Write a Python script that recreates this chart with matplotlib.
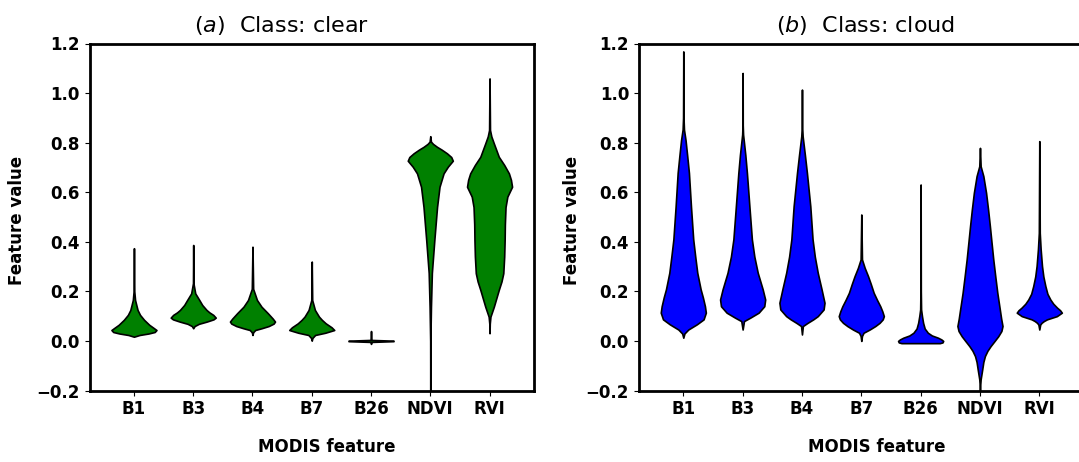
import numpy as np
import matplotlib.pyplot as plt

# MODIS features shown on the x axis
features = ['B1', 'B3', 'B4', 'B7', 'B26', 'NDVI', 'RVI']

# Violin outlines: feature value levels and relative half-widths (1 = widest)
clear_levels = [
    [0.017, 0.024, 0.030, 0.036, 0.044, 0.052, 0.065, 0.085, 0.105, 0.125, 0.165, 0.20, 0.374],
    [0.051, 0.06, 0.069, 0.078, 0.087, 0.094, 0.105, 0.115, 0.125, 0.145, 0.165, 0.192, 0.233, 0.387],
    [0.024, 0.035, 0.044, 0.051, 0.06, 0.07, 0.078, 0.09, 0.112, 0.138, 0.165, 0.21, 0.38],
    [0.001, 0.012, 0.024, 0.033, 0.044, 0.055, 0.071, 0.085, 0.098, 0.125, 0.165, 0.32],
    [-0.012, -0.004, -0.001, 0.001, 0.004, 0.04],
    [-0.25, 0.0, 0.138, 0.274, 0.407, 0.54, 0.622, 0.676, 0.703, 0.727, 0.742, 0.757, 0.772,
     0.783, 0.795, 0.804, 0.826],
    [0.031, 0.07, 0.098, 0.138, 0.172, 0.206, 0.24, 0.273, 0.34, 0.407, 0.47, 0.54, 0.582,
     0.622, 0.65, 0.676, 0.71, 0.743, 0.77, 0.797, 0.825, 0.851, 1.059],
]
clear_widths = [
    [0, 0.25, 0.65, 0.92, 1.0, 0.88, 0.68, 0.45, 0.27, 0.16, 0.05, 0.015, 0],
    [0, 0.06, 0.25, 0.6, 0.9, 1.0, 0.89, 0.72, 0.59, 0.4, 0.27, 0.09, 0.01, 0],
    [0, 0.03, 0.12, 0.4, 0.72, 0.94, 1.0, 0.9, 0.68, 0.4, 0.2, 0.03, 0],
    [0, 0.03, 0.15, 0.6, 1.0, 0.88, 0.62, 0.45, 0.32, 0.14, 0.02, 0],
    [0, 0.02, 1.0, 1.0, 0.02, 0],
    [0, 0.004, 0.03, 0.07, 0.18, 0.3, 0.41, 0.59, 0.78, 1.0, 0.93, 0.74, 0.5, 0.3, 0.12, 0.03, 0],
    [0, 0.01, 0.04, 0.19, 0.3, 0.41, 0.53, 0.61, 0.65, 0.67, 0.68, 0.71, 0.79, 1.0, 0.95, 0.86,
     0.65, 0.41, 0.3, 0.19, 0.08, 0.02, 0],
]

cloud_levels = [
    [0.013, 0.03, 0.046, 0.067, 0.087, 0.114, 0.14, 0.175, 0.208, 0.275, 0.34, 0.41, 0.543,
     0.678, 0.75, 0.81, 0.853, 0.9, 1.168],
    [0.046, 0.08, 0.094, 0.114, 0.14, 0.167, 0.208, 0.275, 0.34, 0.41, 0.543, 0.678, 0.75,
     0.80, 0.833, 0.87, 1.081],
    [0.026, 0.06, 0.073, 0.087, 0.1, 0.127, 0.154, 0.208, 0.275, 0.34, 0.41, 0.543, 0.678,
     0.75, 0.826, 0.87, 1.014],
    [0.0, 0.02, 0.033, 0.046, 0.06, 0.073, 0.087, 0.1, 0.12, 0.14, 0.165, 0.194, 0.23, 0.261,
     0.295, 0.329, 0.51],
    [-0.009, -0.006, 0.0, 0.006, 0.013, 0.022, 0.033, 0.05, 0.073, 0.1, 0.127, 0.2, 0.631],
    [-0.25, -0.18, -0.155, -0.115, -0.085, -0.061, -0.04, -0.021, 0.0, 0.019, 0.04, 0.06, 0.09,
     0.127, 0.194, 0.26, 0.329, 0.40, 0.463, 0.53, 0.598, 0.665, 0.705, 0.779],
    [0.046, 0.066, 0.073, 0.08, 0.087, 0.1, 0.114, 0.124, 0.134, 0.15, 0.167, 0.19, 0.221,
     0.26, 0.302, 0.37, 0.436, 0.806],
]
cloud_widths = [
    [0, 0.05, 0.22, 0.6, 0.9, 1.0, 0.96, 0.87, 0.77, 0.62, 0.53, 0.44, 0.34, 0.25, 0.17, 0.1,
     0.03, 0.01, 0],
    [0, 0.06, 0.34, 0.71, 0.96, 1.0, 0.89, 0.67, 0.52, 0.41, 0.3, 0.19, 0.12, 0.06, 0.02, 0.005, 0],
    [0, 0.04, 0.25, 0.5, 0.7, 0.96, 1.0, 0.87, 0.7, 0.57, 0.47, 0.37, 0.22, 0.13, 0.03, 0.005, 0],
    [0, 0.03, 0.1, 0.37, 0.62, 0.81, 0.95, 1.0, 0.93, 0.84, 0.7, 0.55, 0.42, 0.3, 0.15, 0.03, 0],
    [0.85, 0.97, 1.0, 0.92, 0.77, 0.5, 0.32, 0.18, 0.11, 0.06, 0.02, 0.008, 0],
    [0, 0.01, 0.03, 0.1, 0.15, 0.22, 0.33, 0.47, 0.65, 0.81, 0.95, 1.0, 0.94, 0.88, 0.77, 0.68,
     0.59, 0.51, 0.44, 0.36, 0.27, 0.15, 0.03, 0],
    [0, 0.04, 0.1, 0.2, 0.34, 0.78, 1.0, 0.92, 0.79, 0.62, 0.49, 0.36, 0.27, 0.18, 0.12, 0.06,
     0.02, 0],
]

HALF_WIDTH = 0.38


def draw_panel(ax, levels, widths, color, title, title_x):
    positions = np.arange(1, len(features) + 1)
    for pos, ys, ws in zip(positions, levels, widths):
        ys = np.asarray(ys)
        ws = np.asarray(ws) * HALF_WIDTH
        ax.fill_betweenx(ys, pos - ws, pos + ws, facecolor=color,
                         edgecolor='black', linewidth=1.2)

    ax.set_xlim(0.25, 7.75)
    ax.set_ylim(-0.2, 1.2)
    ax.set_xticks(positions, labels=features, fontsize=12, fontweight='bold')
    yt = np.arange(-0.2, 1.21, 0.2)
    ax.set_yticks(yt)
    ax.set_yticklabels([f'{v:.1f}'.replace('-', '\u2212') for v in yt],
                       fontsize=12, fontweight='bold')
    for side in ax.spines.values():
        side.set_linewidth(2.0)

    ax.set_xlabel('MODIS feature', fontsize=12, fontweight='bold')
    ax.xaxis.set_label_coords(0.534, -0.138)
    ax.set_ylabel('Feature value', fontsize=12, fontweight='bold')
    ax.set_title(title, fontsize=16, pad=8.5, x=title_x)


fig = plt.figure(figsize=(10.79, 4.62), dpi=100)
ax_clear = fig.add_axes([89.5 / 1079, 71.5 / 462, 444.5 / 1079, 347 / 462])
ax_cloud = fig.add_axes([638.8 / 1079, 71.5 / 462, 445 / 1079, 347 / 462])

draw_panel(ax_clear, clear_levels, clear_widths, 'green', r'$(a)$  Class: clear', 0.432)
draw_panel(ax_cloud, cloud_levels, cloud_widths, 'blue', r'$(b)$  Class: cloud', 0.51)
ax_clear.yaxis.set_label_coords(-0.143, 0.49)
ax_cloud.yaxis.set_label_coords(-0.129, 0.49)

fig.savefig('out.png', dpi=100)
